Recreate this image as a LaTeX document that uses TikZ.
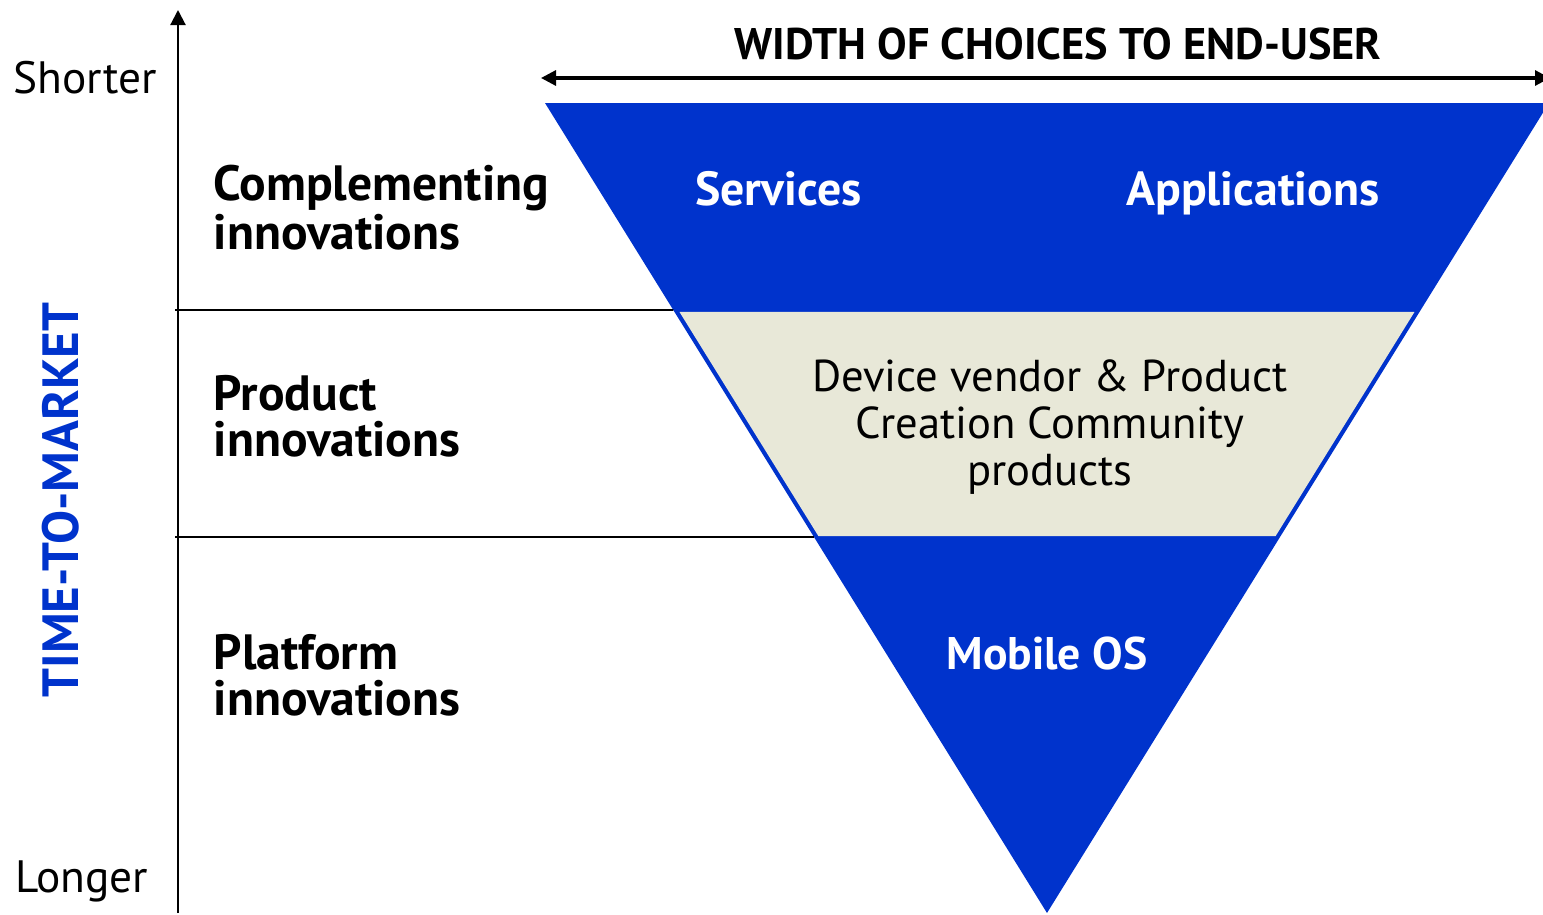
\documentclass[tikz,border=0pt]{standalone}
\usepackage{fontspec}
\setmainfont{PT Sans}
\usetikzlibrary{arrows.meta,calc}
\definecolor{funnelblue}{HTML}{0033CC}
\definecolor{bandbeige}{HTML}{E8E8D8}
\begin{document}
\begin{tikzpicture}[every node/.style={inner sep=0pt},
  axtip/.tip={Triangle[length=1.5mm,width=1.5mm]},
  layerlbl/.style={font=\fontsize{14.1}{13}\selectfont\bfseries,align=left,anchor=west},
  inlbl/.style={font=\fontsize{13.6}{13}\selectfont\bfseries,text=white,anchor=base}]
\useasboundingbox (0,0) rectangle (15.43,9.14);
% funnel
\coordinate (tl) at (5.45,8.11);
\coordinate (tr) at (15.49,8.11);
\coordinate (apex) at (10.47,0.01);
\fill[funnelblue] (tl) -- (tr) -- (apex) -- cycle;
% middle band
\coordinate (ul) at ($(apex)!0.742!(tl)$);
\coordinate (ur) at ($(apex)!0.742!(tr)$);
\coordinate (ll) at ($(apex)!0.4654!(tl)$);
\coordinate (lr) at ($(apex)!0.4654!(tr)$);
\fill[bandbeige] ($(ul)+(0.05,0)$) -- ($(ur)+(-0.05,0)$) -- ($(lr)+(-0.05,0)$) -- ($(ll)+(0.05,0)$) -- cycle;
% axis and layer lines
\coordinate (ybot) at (1.78,0.01);
\coordinate (ytop) at (1.78,9.04);
\draw[-axtip,line width=0.6pt] (ybot) -- (ytop);
\coordinate (s1) at (1.75,6.04);
\coordinate (e1) at ($(apex)!0.7444!(tl)$);
\coordinate (s2) at (1.75,3.77);
\coordinate (e2) at ($(apex)!0.4642!(tl)$);
\draw[line width=0.45pt] (s1) -- (e1);
\draw[line width=0.45pt] (s2) -- (e2);
% width arrow
\coordinate (wl) at (5.41,8.36);
\coordinate (wr) at (15.50,8.36);
\draw[axtip-axtip,line width=0.9pt] (wl) -- (wr);
\node[font=\fontsize{12.6}{13}\selectfont\bfseries,anchor=base] (title) at (10.58,8.55) {WIDTH OF CHOICES TO END-USER};
% time axis labels
\node[font=\fontsize{12.9}{13}\selectfont,anchor=base west] (shorter) at (0.13,8.21) {Shorter};
\node[font=\fontsize{12.9}{13}\selectfont,anchor=base west] (longer) at (0.15,0.22) {Longer};
\node[rotate=90,text=funnelblue,font=\fontsize{14.5}{15}\selectfont\bfseries] (ttm) at (0.605,4.14) {TIME-TO-MARKET};
% layer labels
\node[layerlbl] (compl) at (2.13,7.06) {Complementing\\innovations};
\node[layerlbl] (prod) at (2.13,4.98) {Product\\innovations};
\node[layerlbl] (plat) at (2.13,2.39) {Platform\\innovations};
% inside the funnel
\node[inlbl] (serv) at (7.785,7.09) {Services};
\node[inlbl] (apps) at (12.53,7.09) {Applications};
\node[font=\fontsize{12.7}{13.3}\selectfont,align=center] (dev) at (10.50,4.87) {Device vendor \& Product\\Creation Community\\products};
\node[inlbl,font=\fontsize{13}{13}\selectfont\bfseries] (os) at (10.47,2.45) {Mobile OS};
\end{tikzpicture}
\end{document}
